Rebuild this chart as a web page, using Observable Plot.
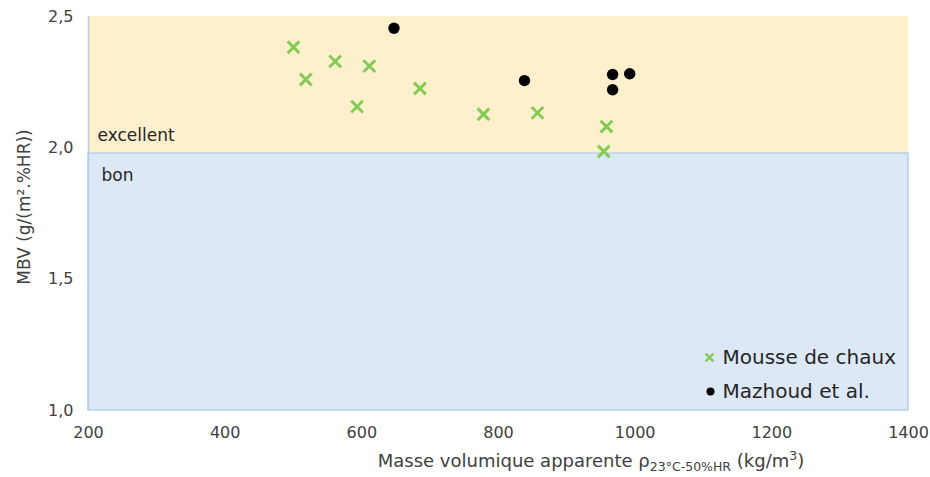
<!DOCTYPE html>
<html><head><meta charset="utf-8">
<script src="https://cdn.jsdelivr.net/npm/d3@7"></script>
<script src="https://cdn.jsdelivr.net/npm/@observablehq/plot@0.6"></script>
<style>body{margin:0;background:#fff} svg{display:block}</style>
</head><body><div id="chart"></div>
<script>
// ---- data ----
const seriesNames = ["Mousse de chaux", "Mazhoud et al."];
const mousseDensity = [500, 518, 561, 611, 593, 685, 778, 857, 958, 954];
const mousseMBV     = [2.383, 2.260, 2.329, 2.311, 2.157, 2.226, 2.128, 2.133, 2.081, 1.986];
const mazhoudDensity = [647, 838, 967, 992, 967];
const mazhoudMBV     = [2.455, 2.256, 2.279, 2.282, 2.221];
const bandNames = ["bon", "excellent"];
const bandLow  = [1.0, 1.978];
const bandHigh = [1.978, 2.5];
const xDomain = [200, 1400];
const yDomain = [1.0, 2.5];
const xTicks = [200, 400, 600, 800, 1000, 1200, 1400];
const xTickLabels = ["200", "400", "600", "800", "1000", "1200", "1400"];
const yTicks = [1.0, 1.5, 2.0, 2.5];
const yTickLabels = ["1,0", "1,5", "2,0", "2,5"];
const yTitle = "MBV (g/(m².%HR))";
const xTitleParts = ["Masse volumique apparente ρ", "23°C-50%HR", " (kg/m", "3", ")"];

// ---- build ----
const font = "DejaVu Sans";
const green = "#84CB55";
const mousse = mousseDensity.map((x, i) => ({x, y: mousseMBV[i]}));
const mazhoud = mazhoudDensity.map((x, i) => ({x, y: mazhoudMBV[i]}));
const bands = bandNames.map((name, i) => ({name, lo: bandLow[i], hi: bandHigh[i]}));

const plot = Plot.plot({
  width: 930, height: 477,
  marginTop: 16, marginBottom: 67, marginLeft: 88, marginRight: 22,
  style: {fontFamily: font, fontSize: "16px", color: "#404040", background: "#fff"},
  x: {domain: xDomain, ticks: xTicks, tickFormat: d => xTickLabels[xTicks.indexOf(d)], tickSize: 0, tickPadding: 16, label: null},
  y: {domain: yDomain, ticks: yTicks, tickFormat: d => yTickLabels[yTicks.indexOf(d)], tickSize: 0, tickPadding: 15, label: null},
  marks: [
    Plot.rect([bands[1]], {x1: () => xDomain[0], x2: () => xDomain[1], y1: "lo", y2: "hi", fill: "#FFF0CD"}),
    Plot.rect([bands[0]], {x1: () => xDomain[0], x2: () => xDomain[1], y1: "lo", y2: "hi", fill: "#DCE8F5", stroke: "#B7D0EA", strokeWidth: 1.5}),
    Plot.ruleX([xDomain[0]], {y1: yDomain[0], y2: yDomain[1], stroke: "#B7CCE4", strokeWidth: 1.5}),
    Plot.text([bands[1]], {x: () => xDomain[0], y: "lo", text: "name", dx: 9, dy: -18, textAnchor: "start", fontSize: 17, fill: "#262626"}),
    Plot.text([bands[0]], {x: () => xDomain[0], y: "hi", text: "name", dx: 13, dy: 22, textAnchor: "start", fontSize: 17, fill: "#262626"}),
    Plot.dot(mousse, {x: "x", y: "y", symbol: "times", r: 5.4, stroke: green, strokeWidth: 3}),
    Plot.dot(mazhoud, {x: "x", y: "y", r: 5.7, fill: "#000", stroke: "none"}),
    // legend
    Plot.dot([seriesNames[0]], {frameAnchor: "bottom-right", dx: -199, dy: -53, symbol: "times", r: 3.6, stroke: green, strokeWidth: 2.5}),
    Plot.dot([seriesNames[1]], {frameAnchor: "bottom-right", dx: -198, dy: -19, r: 4, fill: "#000", stroke: "none"}),
    Plot.text([seriesNames[0]], {frameAnchor: "bottom-right", lineAnchor: "middle", text: d => d, dx: -186, dy: -53, textAnchor: "start", fontSize: 20, fill: "#262626"}),
    Plot.text([seriesNames[1]], {frameAnchor: "bottom-right", lineAnchor: "middle", text: d => d, dx: -186, dy: -19, textAnchor: "start", fontSize: 20, fill: "#262626"})
  ]
});

const svg = d3.select(plot);
// y title
svg.append("text")
  .attr("transform", "translate(30,207) rotate(-90)")
  .attr("text-anchor", "middle")
  .attr("font-family", font).attr("font-size", 17).attr("fill", "#404040")
  .text(yTitle);
// x title with subscript / superscript
const xt = svg.append("text")
  .attr("x", 591).attr("y", 467)
  .attr("text-anchor", "middle")
  .attr("font-family", font).attr("font-size", 18).attr("fill", "#404040");
xt.append("tspan").text(xTitleParts[0]);
xt.append("tspan").attr("font-size", 12.5).attr("dy", 4).text(xTitleParts[1]);
xt.append("tspan").attr("dy", -4).text(xTitleParts[2]);
xt.append("tspan").attr("font-size", 12.5).attr("dy", -7).text(xTitleParts[3]);
xt.append("tspan").attr("dy", 7).text(xTitleParts[4]);

document.getElementById("chart").appendChild(plot);
</script>
</body></html>
